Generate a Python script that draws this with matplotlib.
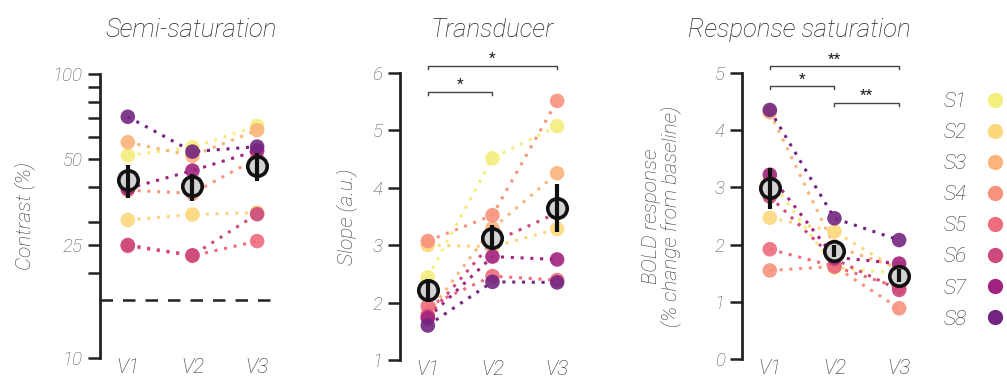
import numpy as np
import matplotlib
matplotlib.use("Agg")
import matplotlib.pyplot as plt
from matplotlib.lines import Line2D
from matplotlib.ticker import FixedLocator, NullFormatter

plt.rcParams['font.family'] = ['Roboto', 'DejaVu Sans']

# data (rows S1..S8, columns V1, V2, V3)
subjects = ['S1', 'S2', 'S3', 'S4', 'S5', 'S6', 'S7', 'S8']
areas = ['V1', 'V2', 'V3']
colors = ['#f4ee7c', '#fcd77c', '#fbb47c', '#f7927c',
          '#ee6c7c', '#cc4a7e', '#a2237f', '#722580']

semi_sat = [[51.7, 55.2, 65.6],
            [30.6, 32.0, 32.5],
            [57.5, 51.5, 63.4],
            [39.0, 38.0, 50.5],
            [24.8, 22.9, 25.8],
            [25.0, 23.0, 32.1],
            [39.5, 45.7, 53.7],
            [70.7, 53.3, 55.5]]
semi_mean = [42.3, 40.3, 47.4]
semi_lo = [36.5, 35.8, 42.1]
semi_hi = [47.8, 44.4, 52.6]
semi_ref = 16.0

slope = [[2.44, 4.51, 5.07],
         [3.00, 2.97, 3.28],
         [1.81, 3.29, 4.25],
         [3.07, 3.52, 5.51],
         [1.94, 2.46, 2.39],
         [1.76, 3.05, 3.56],
         [1.73, 2.80, 2.75],
         [1.60, 2.36, 2.35]]
slope_mean = [2.22, 3.13, 3.64]
slope_lo = [2.01, 2.91, 3.23]
slope_hi = [2.41, 3.35, 4.06]

bold = [[3.15, 1.60, 1.50],
        [2.47, 2.23, 1.55],
        [4.31, 1.97, 1.59],
        [1.55, 1.62, 0.89],
        [1.92, 1.62, 1.25],
        [2.84, 1.75, 1.21],
        [3.22, 1.78, 1.67],
        [4.35, 2.46, 2.08]]
bold_mean = [2.98, 1.89, 1.45]
bold_lo = [2.62, 1.78, 1.35]
bold_hi = [3.33, 2.00, 1.57]

# significance brackets: (from, to, y, label)
slope_sig = [(0, 2, 6.12, '*'), (0, 1, 5.67, '*')]
bold_sig = [(0, 2, 5.11, '**'), (0, 1, 4.76, '*'), (1, 2, 4.47, '**')]

ink = '#222222'
grey_txt = '#555555'
fig = plt.figure(figsize=(10.07, 3.81), dpi=100)

def style_axis(ax, ylabel, pad, spacing=1.0):
    for s in ['top', 'right', 'bottom']:
        ax.spines[s].set_visible(False)
    ax.spines['left'].set_linewidth(2)
    ax.spines['left'].set_color(ink)
    ax.tick_params(axis='y', which='both', length=8.5, width=1.8, color=ink,
                   labelsize=13.5, labelcolor=grey_txt, pad=4)
    ax.tick_params(axis='x', length=0, labelsize=15, labelcolor='#333333', pad=0)
    for lab in ax.get_yticklabels():
        lab.set_fontstyle('italic')
        lab.set_fontweight('light')
    ax.set_xticks(range(len(areas)))
    ax.set_xticklabels(areas, fontstyle='italic', fontweight='light')
    ax.set_xlim(-0.43, 2.23)
    ax.set_ylabel(ylabel, fontsize=15, fontstyle='italic', fontweight='light',
                  color='#333333', labelpad=pad, linespacing=spacing)

def draw_panel(ax, vals, mean, lo, hi):
    x = np.arange(len(areas))
    for i, row in enumerate(vals):
        ax.plot(x, row, linestyle=(0, (1, 2.2)), color=colors[i], lw=2.2, zorder=2)
    for i, row in enumerate(vals):
        ax.scatter(x, row, s=110, color=colors[i], edgecolor='none', alpha=0.9, zorder=3)
    mean = np.array(mean)
    err = [mean - np.array(lo), np.array(hi) - mean]
    ax.plot(x, mean, 'o', ms=14, mfc='#d3d3d3', mec='#111111', mew=2.6, ls='none', zorder=4)
    ax.errorbar(x, mean, yerr=err, fmt='none', ecolor='#111111', elinewidth=3, capsize=0, zorder=5)

def draw_sig(ax, sigs, tick):
    for a, b, y, lab in sigs:
        ax.plot([a, a, b, b], [y - tick, y, y, y - tick], color='#444444', lw=1,
                clip_on=False, zorder=6)
        ax.text((a + b) / 2, y, lab, ha='center', va='bottom', fontsize=11,
                color=ink, clip_on=False)

# panel 1
ax1 = fig.add_axes([100 / 1007, 23 / 381, 172 / 1007, 284 / 381])
ax1.set_yscale('log')
draw_panel(ax1, semi_sat, semi_mean, semi_lo, semi_hi)
ax1.axhline(semi_ref, color=ink, lw=1.8, ls=(0, (5, 4)), zorder=1)
ax1.set_ylim(10, 100)
ax1.yaxis.set_major_locator(FixedLocator([10, 25, 50, 100]))
ax1.yaxis.set_minor_locator(FixedLocator([20, 30, 40, 60, 70, 80, 90]))
ax1.yaxis.set_minor_formatter(NullFormatter())
ax1.set_yticklabels(['10', '25', '50', '100'])
style_axis(ax1, 'Contrast (%)', 13)

# panel 2
ax2 = fig.add_axes([400 / 1007, 21 / 381, 172 / 1007, 287.3 / 381])
draw_panel(ax2, slope, slope_mean, slope_lo, slope_hi)
ax2.set_ylim(1, 6)
ax2.set_yticks([1, 2, 3, 4, 5, 6])
style_axis(ax2, 'Slope (a.u.)', 11)
draw_sig(ax2, slope_sig, 0.05)

# panel 3
ax3 = fig.add_axes([742 / 1007, 21.7 / 381, 172 / 1007, 286.6 / 381])
draw_panel(ax3, bold, bold_mean, bold_lo, bold_hi)
ax3.set_ylim(0, 5)
ax3.set_yticks([0, 1, 2, 3, 4, 5])
style_axis(ax3, 'BOLD response\n(% change from baseline)', 24, spacing=0.95)
draw_sig(ax3, bold_sig, 0.05)

handles = [Line2D([], [], marker='o', ls='none', ms=11, mfc=c, mec='none') for c in colors]
leg = fig.legend(handles, subjects, loc='upper right', bbox_to_anchor=(1005 / 1007, 1 - 92 / 381),
                 frameon=False, markerfirst=False, handlelength=1.0, handletextpad=0.85,
                 labelspacing=0.58, borderpad=0, borderaxespad=0,
                 prop={'size': 15, 'style': 'italic', 'weight': 'light'})
for t in leg.get_texts():
    t.set_color('#333333')

title_kw = dict(fontsize=18.5, fontstyle='italic', fontweight='light', color=ink,
                ha='center', va='baseline')
fig.text(191 / 1007, 1 - 37 / 381, 'Semi-saturation', **title_kw)
fig.text(492 / 1007, 1 - 37 / 381, 'Transducer', **title_kw)
fig.text(799 / 1007, 1 - 37 / 381, 'Response saturation', **title_kw)

fig.savefig('out.png', dpi=100)
